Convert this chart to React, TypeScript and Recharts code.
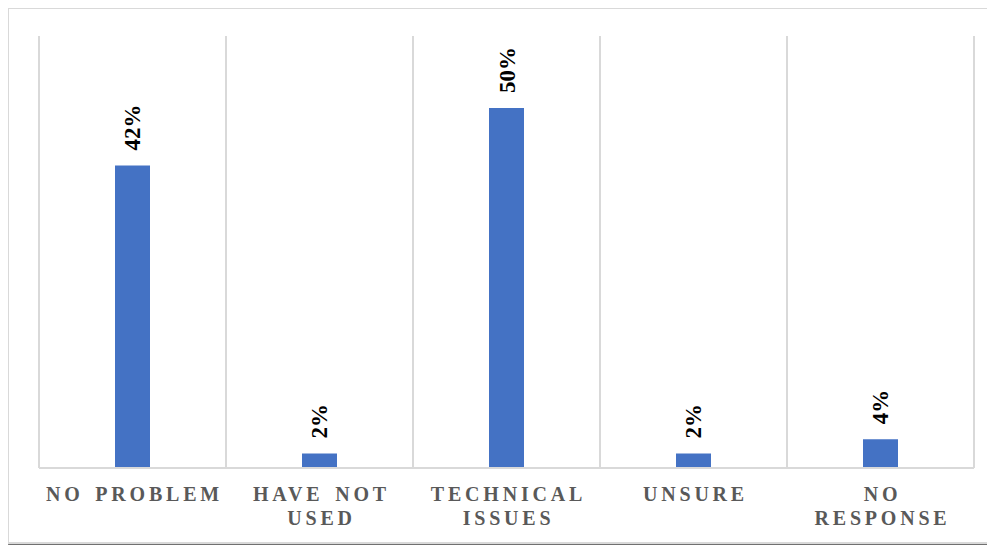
import { BarChart, Bar, XAxis, YAxis, CartesianGrid, LabelList } from "recharts";

const CATEGORIES = ["NO PROBLEM", "HAVE NOT USED", "TECHNICAL ISSUES", "UNSURE", "NO RESPONSE"];
const TICK_LINES = [["NO PROBLEM"], ["HAVE NOT", "USED"], ["TECHNICAL", "ISSUES"], ["UNSURE"], ["NO", "RESPONSE"]];
const PERCENTS = [42, 2, 50, 2, 4];

const BLUE = "#4472C4"; // Office blue
const GRID = "#d9d9d9";

const chartData = CATEGORIES.map((name, i) => ({ name, value: PERCENTS[i] }));

const CategoryTick = ({ x, y, index }: any) => {
  const lines = TICK_LINES[index] || [];
  return (
    <g>
      {lines.map((line, i) => (
        <text
          key={i}
          x={x + 2}
          y={y + 33 + i * 24}
          textAnchor="middle"
          fill="#595959"
          fontFamily="'Liberation Serif', 'Times New Roman', serif"
          fontWeight="bold"
          fontSize={20}
          letterSpacing={3.8}
          wordSpacing={3}
        >
          {line}
        </text>
      ))}
    </g>
  );
};

const ValueLabel = ({ x, y, width, value }: any) => {
  const cx = x + width / 2;
  const top = y - 15;
  return (
    <text
      x={cx + 8}
      y={top}
      transform={`rotate(-90 ${cx + 8} ${top})`}
      textAnchor="start"
      fill="#000"
      fontFamily="'Liberation Serif', 'Times New Roman', serif"
      fontWeight="bold"
      fontSize={23}
    >
      {`${value}%`}
    </text>
  );
};

export default function App() {
  return (
    <div
      style={{
        position: "relative",
        left: -1,
        top: -1,
        width: 982,
        height: 533,
        border: `2px solid ${GRID}`,
        boxShadow: "0px 4px 3px rgba(0,0,0,0.5), -2px 1px 3px rgba(0,0,0,0.2)",
        background: "#fff",
      }}
    >
      <BarChart width={982} height={533} data={chartData} margin={{ top: 27, right: 17, bottom: 14, left: 30 }}>
        <CartesianGrid
          horizontal={false}
          stroke={GRID}
          strokeWidth={2}
          verticalCoordinatesGenerator={({ offset }: any) =>
            [...CATEGORIES, ""].map((_, i) => offset.left + (offset.width * i) / CATEGORIES.length)
          }
        />
        <XAxis
          dataKey="name"
          interval={0}
          height={60}
          tickLine={false}
          tickSize={0}
          tickMargin={0}
          axisLine={{ stroke: GRID, strokeWidth: 2 }}
          tick={<CategoryTick />}
        />
        <YAxis hide domain={[0, 60]} />
        <Bar dataKey="value" fill={BLUE} barSize={35} isAnimationActive={false}>
          <LabelList dataKey="value" content={<ValueLabel />} />
        </Bar>
      </BarChart>
    </div>
  );
}
